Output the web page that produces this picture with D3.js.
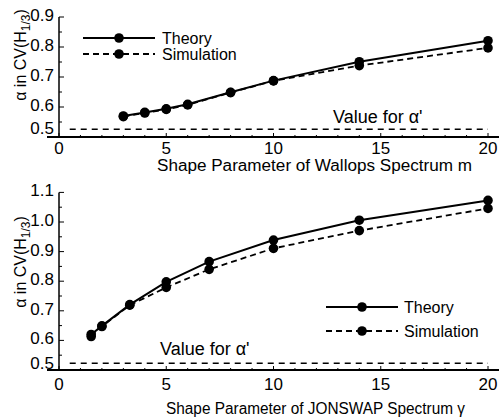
<!DOCTYPE html>
<html><head><meta charset="utf-8">
<script src="https://cdn.jsdelivr.net/npm/d3@7"></script>
<style>body{margin:0;background:#fff}svg{display:block;font-family:"Liberation Sans",Arial,sans-serif}</style>
</head><body><svg id="c" width="499" height="420"></svg>
<script>
// Top panel: Wallops spectrum
const wallopsM = [3, 4, 5, 6, 8, 10, 14, 20];
const wallopsTheory = [0.570, 0.582, 0.594, 0.609, 0.649, 0.688, 0.751, 0.821];
const wallopsSim = [0.568, 0.580, 0.592, 0.607, 0.648, 0.687, 0.738, 0.797];
const wallopsAlphaPrime = 0.526;
const wallopsYTicks = [0.5, 0.6, 0.7, 0.8, 0.9];
// Bottom panel: JONSWAP spectrum
const jonswapGamma = [1.5, 2, 3.3, 5, 7, 10, 14, 20];
const jonswapTheory = [0.620, 0.649, 0.721, 0.798, 0.866, 0.939, 1.006, 1.073];
const jonswapSim = [0.613, 0.647, 0.719, 0.779, 0.840, 0.911, 0.971, 1.046];
const jonswapAlphaPrime = 0.523;
const jonswapYTicks = [0.5, 0.6, 0.7, 0.8, 0.9, 1.0, 1.1];
const xTicks = [0, 5, 10, 15, 20];

const svg = d3.select("#c");

function panel(o){
  const g = svg.append("g");
  const x = d3.scaleLinear().domain([0,20]).range([59,488]);
  const y = d3.scaleLinear().domain(o.yDomain).range(o.yRange);
  // axes lines
  g.append("line").attr("x1",47).attr("x2",499).attr("y1",y(o.yDomain[0])).attr("y2",y(o.yDomain[0]))
    .attr("stroke","#000").attr("stroke-width",2);
  g.append("line").attr("x1",59).attr("x2",59).attr("y1",y(o.yDomain[0])).attr("y2",y(o.yDomain[1]))
    .attr("stroke","#000").attr("stroke-width",1.5);
  // y ticks (inward) incl minor
  const yMinor = d3.range(o.yDomain[0], o.yDomain[1]+0.001, 0.05);
  g.selectAll(".ym").data(yMinor).join("line")
    .attr("x1",59).attr("x2",(d,i)=> i%2===0?64:62).attr("y1",d=>y(d)).attr("y2",d=>y(d))
    .attr("stroke","#000").attr("stroke-width",1);
  g.selectAll(".yl").data(o.yTicks).join("text")
    .attr("x",54).attr("y",(d,i)=>y(d)-(i===0?o.firstShift:2))
    .attr("dy","0.35em").attr("text-anchor","end").attr("font-size",17)
    .text(d=>d.toFixed(1));
  // x ticks
  const xMinor = d3.range(0,20.01,1);
  g.selectAll(".xm").data(xMinor).join("line")
    .attr("x1",d=>x(d)).attr("x2",d=>x(d)).attr("y1",y(o.yDomain[0])).attr("y2",(d)=>y(o.yDomain[0])-(d%5===0?4:2))
    .attr("stroke","#000").attr("stroke-width",1);
  g.selectAll(".xl").data(xTicks).join("text")
    .attr("x",d=>x(d)).attr("y",o.xLabelY).attr("dy","0.35em").attr("text-anchor","middle").attr("font-size",17)
    .text(d=>d);
  // axis titles
  g.append("text").attr("x",o.xTitleX).attr("y",o.xTitleY).attr("dy","0.35em").attr("font-size",16)
    .attr("textLength",o.xTitleLen).attr("lengthAdjust","spacingAndGlyphs")
    .text(o.xTitle);
  const yt = g.append("text").attr("transform",`translate(20,${o.yTitleY}) rotate(-90)`)
    .attr("text-anchor","middle").attr("dy","0.35em").attr("font-size",16);
  yt.append("tspan").text("α in CV(H");
  yt.append("tspan").attr("font-size",12).attr("dy","4").text("1/3");
  yt.append("tspan").attr("dy","-4").text(")");
  // alpha prime line
  g.append("line").attr("x1",x(0.5)).attr("x2",x(20)).attr("y1",y(o.alphaPrime)).attr("y2",y(o.alphaPrime))
    .attr("stroke","#000").attr("stroke-width",1.5).attr("stroke-dasharray","6,5");
  g.append("text").attr("x",o.vfX).attr("y",o.vfY).attr("dy","0.35em").attr("font-size",18).text("Value for α'");
  // series
  const line = d3.line().x(d=>x(d[0])).y(d=>y(d[1]));
  const sim = o.xs.map((v,i)=>[v,o.sim[i]]);
  const th = o.xs.map((v,i)=>[v,o.theory[i]]);
  g.append("path").attr("d",line(sim)).attr("fill","none").attr("stroke","#000").attr("stroke-width",1.8).attr("stroke-dasharray","6,4");
  g.append("path").attr("d",line(th)).attr("fill","none").attr("stroke","#000").attr("stroke-width",2);
  g.selectAll(".ps").data(sim).join("circle").attr("cx",d=>x(d[0])).attr("cy",d=>y(d[1])).attr("r",4.8).attr("fill","#000");
  g.selectAll(".pt").data(th).join("circle").attr("cx",d=>x(d[0])).attr("cy",d=>y(d[1])).attr("r",4.8).attr("fill","#000");
  // legend
  const L = o.legend;
  g.append("line").attr("x1",L.x1).attr("x2",L.x2).attr("y1",L.y1).attr("y2",L.y1).attr("stroke","#000").attr("stroke-width",2);
  g.append("circle").attr("cx",(L.x1+L.x2)/2).attr("cy",L.y1).attr("r",4.8);
  g.append("text").attr("x",L.tx).attr("y",L.y1).attr("dy","0.35em").attr("font-size",16).text("Theory");
  g.append("line").attr("x1",L.x1).attr("x2",L.x2).attr("y1",L.y2).attr("y2",L.y2).attr("stroke","#000").attr("stroke-width",1.8).attr("stroke-dasharray","6,4");
  g.append("circle").attr("cx",(L.x1+L.x2)/2).attr("cy",L.y2).attr("r",4.8);
  g.append("text").attr("x",L.tx).attr("y",L.y2).attr("dy","0.35em").attr("font-size",16).text("Simulation");
}

panel({yDomain:[0.5,0.9], yRange:[137,17], yTicks:wallopsYTicks, firstShift:9,
  xLabelY:148, xTitle:"Shape Parameter of Wallops Spectrum  m", xTitleX:157, xTitleLen:315, xTitleY:165, yTitleY:55,
  alphaPrime:wallopsAlphaPrime, vfX:333, vfY:117,
  xs:wallopsM, theory:wallopsTheory, sim:wallopsSim,
  legend:{x1:83,x2:155,y1:38,y2:54,tx:162}});

panel({yDomain:[0.5,1.1], yRange:[370,192.4], yTicks:jonswapYTicks, firstShift:7,
  xLabelY:384, xTitle:"Shape Parameter of JONSWAP Spectrum  γ", xTitleX:166, xTitleLen:299, xTitleY:408, yTitleY:262,
  alphaPrime:jonswapAlphaPrime, vfX:160, vfY:349,
  xs:jonswapGamma, theory:jonswapTheory, sim:jonswapSim,
  legend:{x1:326,x2:398,y1:307,y2:331,tx:404}});
</script></body></html>
